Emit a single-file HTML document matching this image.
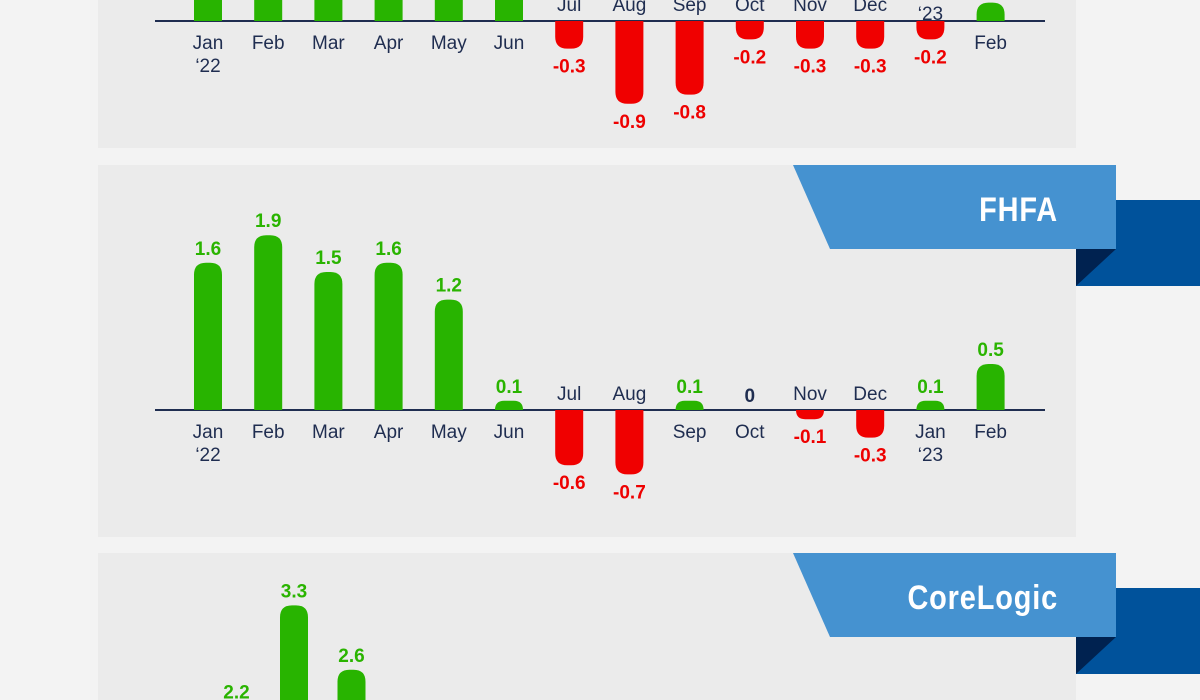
<!DOCTYPE html>
<html><head><meta charset="utf-8"><style>
html,body{margin:0;padding:0;background:#f3f3f3;width:1200px;height:700px;overflow:hidden;font-family:"Liberation Sans",sans-serif}
svg{display:block}
</style></head><body>
<svg id="chart" width="1200" height="700" viewBox="0 0 1200 700" xmlns="http://www.w3.org/2000/svg">
<defs><clipPath id="frame"><rect x="0" y="0" width="1200" height="700"/></clipPath></defs>
<g clip-path="url(#frame)">
<rect x="0" y="0" width="1200" height="700" fill="#f3f3f3"/>
<rect x="98" y="0" width="978" height="148" fill="#ebebeb"/>
<rect x="98" y="165" width="978" height="372" fill="#ebebeb"/>
<rect x="98" y="553" width="978" height="147" fill="#ebebeb"/>
<g id="ribbons"></g>
<g id="marks"></g>
</g>
</svg>
<script>
const months = ["Jan","Feb","Mar","Apr","May","Jun","Jul","Aug","Sep","Oct","Nov","Dec","Jan","Feb"];
const years = ["‘22","","","","","","","","","","","","‘23",""];
const caseShillerValues = [1.8, 2.4, 2.6, 2.2, 1.5, 0.4, -0.3, -0.9, -0.8, -0.2, -0.3, -0.3, -0.2, 0.2];
const fhfaValues = [1.6, 1.9, 1.5, 1.6, 1.2, 0.1, -0.6, -0.7, 0.1, 0, -0.1, -0.3, 0.1, 0.5];
const coreLogicValues = [1.2, 2.2, 3.3, 2.6, 1.5, 0.3, -0.1, -0.4, -0.3, -0.2, -0.1, 0.0, 0.2, 0.6];
const labelsCaseShiller = ["1.8","2.4","2.6","2.2","1.5","0.4","-0.3","-0.9","-0.8","-0.2","-0.3","-0.3","-0.2","0.2"];
const labelsFhfa = ["1.6","1.9","1.5","1.6","1.2","0.1","-0.6","-0.7","0.1","0","-0.1","-0.3","0.1","0.5"];
const labelsCoreLogic = ["1.2","2.2","3.3","2.6","1.5","0.3","-0.1","-0.4","-0.3","-0.2","-0.1","0.0","0.2","0.6"];

const NS="http://www.w3.org/2000/svg";
const marks=document.getElementById('marks');
const ribbons=document.getElementById('ribbons');
const UNIT=92;
function el(tag,attrs,parent){const e=document.createElementNS(NS,tag);for(const k in attrs)e.setAttribute(k,attrs[k]);(parent||marks).appendChild(e);return e;}

function drawPanel(key, values, labels, baseY, x0, step){
  const xScale=i=>x0+i*step;
  const yScale=v=>baseY - v*UNIT;
  const ax=el('line',{x1:155,x2:1045,y1:baseY,y2:baseY,stroke:'#1f2d50','stroke-width':2});
  
  
  values.forEach((v,i)=>{
    const cx=xScale(i), w=28, r=12;
    const y0=yScale(0), y1=yScale(v);
    const pos=v>0;
    const h=Math.abs(y1-y0);
    let d;
    if(h>0.5){
      const rr=Math.min(r,h);
      if(pos) d=`M${cx-w/2},${y0} L${cx-w/2},${y1+rr} Q${cx-w/2},${y1} ${cx-w/2+rr},${y1} L${cx+w/2-rr},${y1} Q${cx+w/2},${y1} ${cx+w/2},${y1+rr} L${cx+w/2},${y0} Z`;
      else d=`M${cx-w/2},${y0} L${cx-w/2},${y1-rr} Q${cx-w/2},${y1} ${cx-w/2+rr},${y1} L${cx+w/2-rr},${y1} Q${cx+w/2},${y1} ${cx+w/2},${y1-rr} L${cx+w/2},${y0} Z`;
      const b=el('path',{d:d,fill:pos?'#28b400':'#f00000'});
      
      
    }
    const neg=v<0;
    const vy = neg ? y1+24 : y1-8;
    const t=el('text',{x:cx,y:vy,'text-anchor':'middle','font-size':19,'font-weight':'bold',fill: v>0?'#2ab400':(v<0?'#ee0000':'#1f2d50')});
    t.textContent=labels[i];
    
    
    if(neg){
      const m=el('text',{x:cx,y:baseY-(years[i]?23:10),'text-anchor':'middle','font-size':19,fill:'#1f2d50'});
      m.textContent=months[i];
      
      
      if(years[i]){const yl=el('text',{x:cx,y:baseY-1,'text-anchor':'middle','font-size':19,fill:'#1f2d50'});yl.textContent=years[i];
        
        }
    } else {
      const m=el('text',{x:cx,y:baseY+28,'text-anchor':'middle','font-size':19,fill:'#1f2d50'});
      m.textContent=months[i];
      
      
      if(years[i]){const yl=el('text',{x:cx,y:baseY+51,'text-anchor':'middle','font-size':19,fill:'#1f2d50'});yl.textContent=years[i];
        
        }
    }
  });
}
function drawRibbon(key,title,top){
  const d1=el('rect',{x:1076,y:top+35,width:124,height:86,fill:'#00529b'},ribbons);
  
  
  const tri=el('polygon',{points:`1076,${top+84} 1116,${top+84} 1076,${top+121}`,fill:'#002250'},ribbons);
  
  
  const f=el('polygon',{points:`793,${top} 1116,${top} 1116,${top+84} 830,${top+84}`,fill:'#4592d0'},ribbons);
  
  
  const t=el('text',{x:1058,y:top+56,'text-anchor':'end','font-size':34,'font-weight':'bold',fill:'#ffffff','letter-spacing':1},ribbons);
  t.setAttribute('transform',`translate(1058,0) scale(0.85,1) translate(-1058,0)`);
  t.textContent=title;
  
  
}
drawPanel('case-shiller', caseShillerValues, labelsCaseShiller, 21, 208, 60.2);
drawPanel('fhfa', fhfaValues, labelsFhfa, 410, 208, 60.2);
drawPanel('corelogic', coreLogicValues, labelsCoreLogic, 909, 179, 57.5);
drawRibbon('fhfa','FHFA',165);
drawRibbon('corelogic','CoreLogic',553);
</script>
</body></html>
